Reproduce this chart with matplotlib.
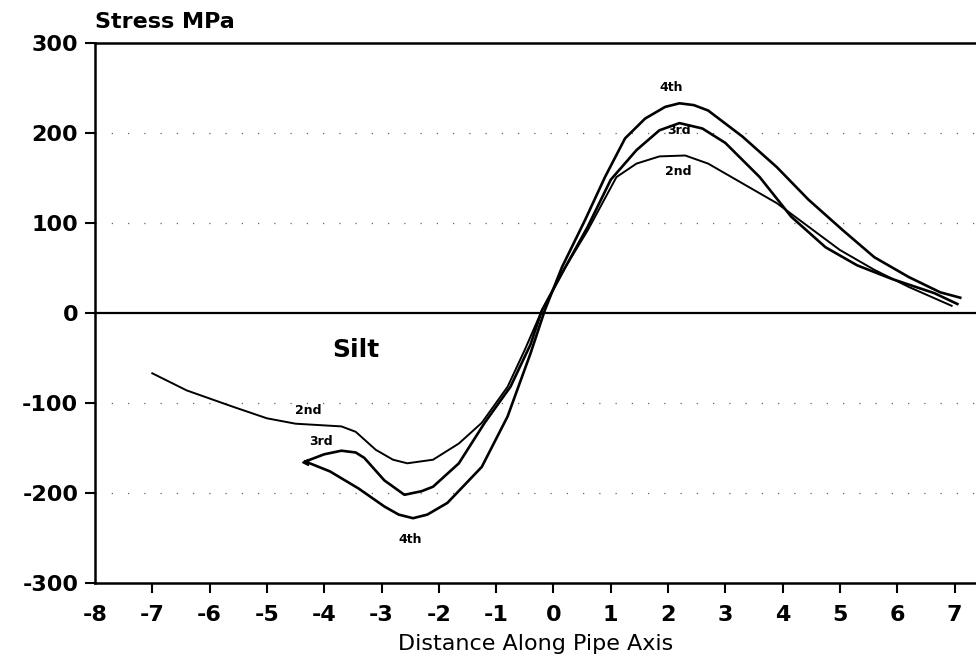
import numpy as np
import matplotlib
matplotlib.use('Agg')
import matplotlib.pyplot as plt

plt.rcParams['axes.unicode_minus'] = False

# distance along pipe axis / stress (MPa)
x2 = [-7.0, -6.4, -5.6, -5.0, -4.5, -3.7, -3.45, -3.1, -2.8, -2.55, -2.1, -1.65, -1.25,
      -0.8, -0.5, -0.2, 0.2, 0.6, 1.1, 1.45, 1.85, 2.3, 2.7, 3.3, 3.9, 4.45, 5.0, 5.6, 6.2, 6.95]
y2 = [-67, -86, -104, -117, -123, -126, -132, -152, -163, -167, -163, -145, -122,
      -82, -41, 3, 50, 92, 151, 166, 174, 175, 166, 144, 122, 96, 70, 48, 29, 8]

x3 = [-4.33, -4.0, -3.7, -3.45, -3.3, -2.95, -2.6, -2.3, -2.1, -1.65, -1.2, -0.75, -0.4,
      -0.2, 0.2, 0.6, 1.0, 1.45, 1.85, 2.2, 2.6, 3.0, 3.6, 4.15, 4.75, 5.3, 5.9, 6.65, 7.05]
y3 = [-165, -157, -153, -155, -161, -186, -202, -198, -193, -167, -122, -82, -35,
      3, 50, 96, 148, 181, 203, 211, 205, 189, 151, 107, 73, 53, 38, 22, 10]

x4 = [-4.33, -3.9, -3.4, -2.95, -2.7, -2.45, -2.2, -1.85, -1.25, -0.8, -0.4, -0.15, 0.15,
      0.55, 0.9, 1.25, 1.6, 1.95, 2.2, 2.45, 2.7, 3.3, 3.9, 4.45, 5.05, 5.6, 6.2, 6.75, 7.1]
y4 = [-165, -176, -195, -215, -224, -228, -224, -211, -171, -115, -45, 3, 51,
      103, 151, 194, 216, 229, 233, 231, 225, 196, 162, 126, 92, 62, 40, 23, 17]

xticks = list(range(-8, 8))
yticks = [-300, -200, -100, 0, 100, 200, 300]
ylabels = ['-300', '-200', '-100', '0', '100', '200', '300']

fig = plt.figure(figsize=(9.76, 6.64), dpi=100)
ax = fig.add_axes([95/976, 1-583/664, 881/976, 540/664])

# faint dotted grid lines left over from the scan
for g in [-200, -100, 100, 200]:
    ax.axhline(g, color='0.4', lw=0.9, linestyle=(0, (1, 12)))
ax.axhline(0, color='black', lw=1.6)

ax.plot(x2, y2, color='black', lw=1.4, solid_joinstyle='round')
ax.plot(x3, y3, color='black', lw=1.9, solid_joinstyle='round')
ax.plot(x4, y4, color='black', lw=1.9, solid_joinstyle='round')
ax.plot(x4[0], y4[0], marker='<', color='black', markersize=5)

tb = dict(fontsize=9, fontweight='bold', ha='center', va='center')
ax.text(-4.28, -108, '2nd', **tb)
ax.text(-4.05, -143, '3rd', **tb)
ax.text(-2.5, -252, '4th', **tb)
ax.text(2.06, 251, '4th', **tb)
ax.text(2.2, 203, '3rd', **tb)
ax.text(2.18, 157, '2nd', **tb)
ax.text(-3.45, -41, 'Silt', fontsize=18, fontweight='bold', ha='center', va='center')

ax.set_xlim(-8, 7.375)
ax.set_ylim(-300, 300)
ax.set_xticks(xticks)
ax.set_xticklabels([str(t) for t in xticks])
ax.set_yticks(yticks)
ax.set_yticklabels(ylabels)
ax.tick_params(axis='both', direction='out', length=7, width=1.5, labelsize=16)
ax.tick_params(axis='x', pad=9)
ax.tick_params(axis='y', pad=5)
for lab in ax.get_xticklabels() + ax.get_yticklabels():
    lab.set_fontweight('bold')
ax.xaxis.get_major_ticks()[0].tick1line.set_visible(False)
ax.spines['right'].set_visible(False)
for s in ['left', 'bottom', 'top']:
    ax.spines[s].set_linewidth(1.8)

ax.set_xlabel('Distance Along Pipe Axis', fontsize=16, labelpad=6)
fig.text(95/976, 1-22/664, 'Stress MPa', fontsize=16, fontweight='bold', ha='left', va='center')

fig.savefig('out.png', dpi=100)
